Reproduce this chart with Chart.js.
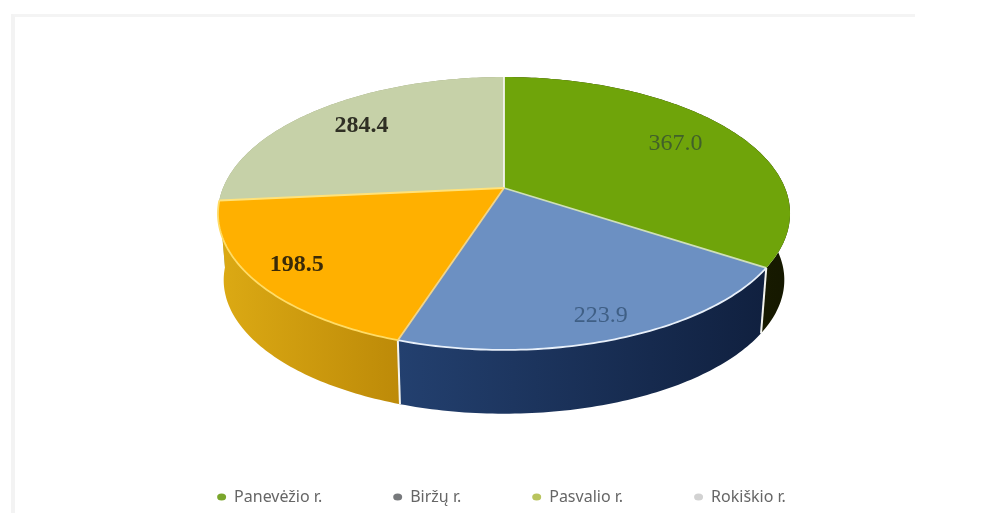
<!DOCTYPE html>
<html>
<head>
<meta charset="utf-8">
<script src="https://cdn.jsdelivr.net/npm/chart.js@4"></script>
<style>
html,body{margin:0;padding:0;background:#fff;}
#wrap{position:relative;width:985px;height:529px;overflow:hidden;background:#fff;}
#frame{position:absolute;left:11px;top:14px;width:900px;height:496px;border-top:3px solid #f4f4f4;border-left:4px solid #f3f3f3;}
canvas{position:absolute;left:0;top:0;filter:blur(0.5px);}
</style>
</head>
<body>
<div id="wrap"><div id="frame"></div><canvas id="c" width="985" height="529"></canvas></div>
<script>
const categories = ['Panevėžio r.', 'Biržų r.', 'Pasvalio r.', 'Rokiškio r.'];
const values = [367.0, 223.9, 198.5, 284.4];
const valueLabels = ['367.0', '223.9', '198.5', '284.4'];
const topColors = ['#6fa40a', '#6c90c2', '#ffb000', '#c6d1a8'];
const wallLeft = ['#2c2e02', '#23406f', '#dcaa14', '#9aa27a'];
const wallRight = ['#151800', '#10203f', '#bd8a08', '#9aa27a'];
const rimColors = ['#d8e8b0', '#e8f0fa', '#ffdc66', '#f0e8b0'];
const labelColors = ['#41602a', '#3f5f85', '#3a2a08', '#2f2f24'];
const labelWeights = ['normal', 'normal', 'bold', 'bold'];
const legendColors = ['#7aa62c', '#77797c', '#b9c45e', '#d2d2d2'];
const labelReach = [0.74, 0.875, 0.85, 0.75];

// Perspective view of the pie disc
const view = {cx:504, cy:188, A:281, S:131.7, k:0.1868, depth:67, shrink:0.98};
const legendCenterY = 497;
const legendShiftX = 9;
function project(a, r, lower){
  const u = r*Math.cos(a), v = r*Math.sin(a), d = 1 - view.k*v;
  let x = view.A*u/d, y = view.S*v/d;
  if(lower){ x *= view.shrink; y = y*view.shrink + view.depth; }
  return [view.cx + x, view.cy + y];
}
function arcPoints(start, end, lower){
  const n = Math.max(8, Math.ceil((end-start)*60)), pts = [];
  for(let i=0;i<=n;i++) pts.push(project(start+(end-start)*i/n, 1, lower));
  return pts;
}
const pie3d = {
  id:'pie3d',
  afterLayout(chart){
    const l = chart.legend, pad = l.options.labels.padding;
    const dy = legendCenterY - (l.top + pad + 8);
    l.top += dy; l.bottom += dy;
    l.left += legendShiftX; l.right += legendShiftX;
    if(l.legendHitBoxes) l.legendHitBoxes.forEach(b=>{b.top += dy; b.left += legendShiftX;});
  },
  beforeDatasetsDraw(chart){
    const ctx = chart.ctx, arcs = chart.getDatasetMeta(0).data;
    // side walls, back slices first
    [0,3,1,2].forEach(i=>{
      const el = arcs[i];
      const top = arcPoints(el.startAngle, el.endAngle, false);
      const low = arcPoints(el.startAngle, el.endAngle, true);
      const xs = top.concat(low).map(p=>p[0]);
      const g = ctx.createLinearGradient(Math.min(...xs),0,Math.max(...xs),0);
      g.addColorStop(0, wallLeft[i]); g.addColorStop(1, wallRight[i]);
      ctx.beginPath();
      top.forEach((p,j)=> j?ctx.lineTo(p[0],p[1]):ctx.moveTo(p[0],p[1]));
      low.reverse().forEach(p=>ctx.lineTo(p[0],p[1]));
      ctx.closePath();
      ctx.fillStyle = g; ctx.fill();
    });
    // seams on the front of the wall
    ctx.strokeStyle = '#f4f4ee'; ctx.lineWidth = 2;
    [arcs[0].endAngle, arcs[1].endAngle].forEach(a=>{
      const p = project(a,1,false), q = project(a,1,true);
      ctx.beginPath(); ctx.moveTo(p[0],p[1]); ctx.lineTo(q[0],q[1]); ctx.stroke();
    });
    // top face
    arcs.forEach((el,i)=>{
      const pts = arcPoints(el.startAngle, el.endAngle, false);
      ctx.beginPath();
      ctx.moveTo(view.cx, view.cy);
      pts.forEach(p=>ctx.lineTo(p[0],p[1]));
      ctx.closePath();
      ctx.fillStyle = topColors[i]; ctx.fill();
    });
    // slice borders
    ctx.lineJoin = 'round';
    arcs.forEach((el,i)=>{
      const p = project(el.startAngle,1,false);
      ctx.strokeStyle = i===3 ? '#ffe27a' : i===0 ? '#f4f4ee' : i===1 ? '#cfe0b8' : '#f0d48a';
      ctx.lineWidth = 1.8;
      ctx.beginPath(); ctx.moveTo(view.cx,view.cy); ctx.lineTo(p[0],p[1]); ctx.stroke();
      if(i===1||i===2){
        const rim = arcPoints(el.startAngle, el.endAngle, false);
        ctx.strokeStyle = rimColors[i]; ctx.lineWidth = 1.8;
        ctx.beginPath();
        rim.forEach((q,j)=> j?ctx.lineTo(q[0],q[1]):ctx.moveTo(q[0],q[1]));
        ctx.stroke();
      }
    });
    // value labels
    ctx.textAlign = 'center'; ctx.textBaseline = 'middle';
    arcs.forEach((el,i)=>{
      const p = project((el.startAngle+el.endAngle)/2, labelReach[i], false);
      ctx.font = labelWeights[i] + ' 24px "Liberation Serif"';
      ctx.fillStyle = labelColors[i];
      ctx.fillText(valueLabels[i], p[0], p[1]-1);
    });
    return false;
  }
};
new Chart(document.getElementById('c'), {
  type:'pie',
  data:{labels:categories, datasets:[{data:values, backgroundColor:topColors, borderWidth:0}]},
  plugins:[pie3d],
  options:{
    responsive:false, animation:false,
    plugins:{
      tooltip:{enabled:false},
      legend:{
        position:'bottom', align:'center',
        labels:{
          usePointStyle:true, pointStyle:'circle', boxWidth:5, boxHeight:5, pointStyleWidth:9,
          padding:71, color:'#666666', font:{family:'"Noto Sans"', size:16},
          generateLabels(){ return categories.map((t,i)=>({text:t, fillStyle:legendColors[i], strokeStyle:legendColors[i], lineWidth:0, pointStyle:'circle', index:i, fontColor:'#666666'})); }
        }
      }
    }
  }
});
</script>
</body>
</html>
